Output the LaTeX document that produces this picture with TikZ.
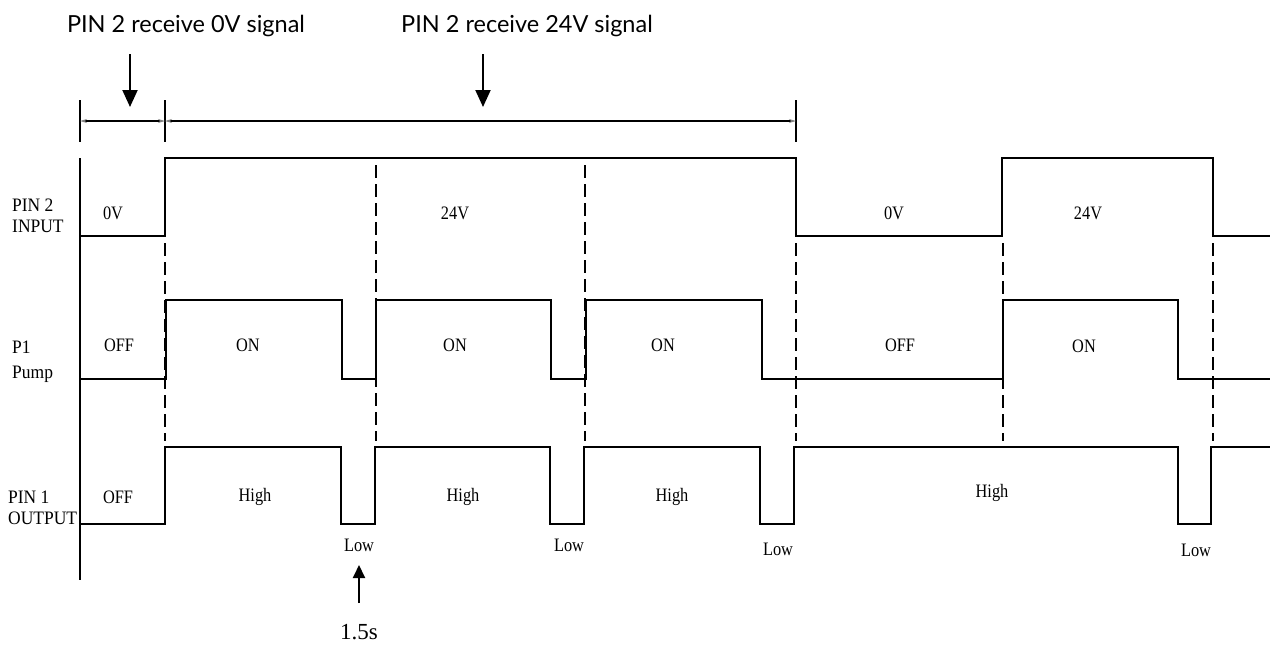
\documentclass[tikz,border=0pt]{standalone}
\usepackage{fontspec}
\usepackage{graphicx}
\setmainfont{Liberation Serif}
\newfontfamily\titlefont{Lato}
\newcommand{\sq}[1]{\scalebox{0.86}[1]{#1}}
\newcommand{\sqw}[1]{\scalebox{0.92}[1]{#1}}
\usetikzlibrary{arrows.meta}
\begin{document}
\begin{tikzpicture}[x=1pt,y=-1pt,
  sig/.style={line width=1.8pt,line join=miter},
  dsh/.style={line width=1.6pt,dash pattern=on 13pt off 6pt},
  tick/.style={line width=1.6pt},
  dimarr/.style={line width=1.1pt,{Stealth[length=7pt,width=4pt,color=gray]}-{Stealth[length=7pt,width=4pt,color=gray]}},
  bigarr/.style={line width=2pt,-{Triangle[length=17pt,width=15pt]}},
  ttl/.style={font=\titlefont\fontsize{23.5}{28}\selectfont,anchor=base},
  lbl/.style={font=\fontsize{19}{22}\selectfont},
  sidelbl/.style={font=\fontsize{19}{22}\selectfont,anchor=west,align=left,inner sep=0pt}]
\useasboundingbox (0,0) rectangle (1274,646);

% titles
\node[ttl] (t0) at (186,32) {PIN 2 receive 0V signal};
\node[ttl] (t24) at (527,32) {PIN 2 receive 24V signal};
\coordinate (a0s) at (130,54);
\coordinate (a0e) at (130,107);
\coordinate (a24s) at (483,54);
\coordinate (a24e) at (483,107);
\draw[bigarr] (a0s) -- (a0e);
\draw[bigarr] (a24s) -- (a24e);

% dimension line
\coordinate (d0) at (80,121);
\coordinate (d1) at (165,121);
\coordinate (d2) at (796,121);
\draw[tick] (80,100) -- (80,142);
\draw[tick] (165,100) -- (165,142);
\draw[tick] (796,100) -- (796,142);
\draw[dimarr] (d0) -- (d1);
\draw[dimarr] (d1) -- (d2);

% axis
\draw[line width=1.8pt] (80,158) -- (80,580);

% dashed guides
\draw[dsh] (165,243) -- (165,441);
\draw[dsh] (376,165) -- (376,441);
\draw[dsh] (585,165) -- (585,441);
\draw[dsh] (796,243) -- (796,441);
\draw[dsh] (1003,243) -- (1003,441);
\draw[dsh] (1213,243) -- (1213,441);

% PIN 2 INPUT
\draw[sig] (80,236) -- (165,236) -- (165,158) -- (796,158) -- (796,236)
  -- (1002,236) -- (1002,158) -- (1213,158) -- (1213,236) -- (1270,236);
% P1 pump
\draw[sig] (80,379) -- (166,379) -- (166,300) -- (342,300) -- (342,379)
  -- (376,379) -- (376,300) -- (551,300) -- (551,379) -- (586,379)
  -- (586,300) -- (762,300) -- (762,379) -- (1003,379) -- (1003,300)
  -- (1178,300) -- (1178,379) -- (1270,379);
% PIN 1 output
\draw[sig] (80,524) -- (165,524) -- (165,447) -- (341,447) -- (341,524)
  -- (375,524) -- (375,447) -- (550,447) -- (550,524) -- (584,524)
  -- (584,447) -- (760,447) -- (760,524) -- (794,524) -- (794,447)
  -- (1178,447) -- (1178,524) -- (1211,524) -- (1211,447) -- (1270,447);

% side labels
\node[sidelbl] (lin) at (12,216) {\sqw{PIN 2}\\[-1pt]\sqw{INPUT}};
\node[sidelbl] (lp) at (12,362) {\sqw{P1}\\[3pt]\sqw{Pump}};
\node[sidelbl] (lout) at (8,508) {\sqw{PIN 1}\\[-1pt]\sqw{OUTPUT}};

% row 1 labels
\node[lbl] (v1) at (113,213) {\sq{0V}};
\node[lbl] (v2) at (455,213) {\sq{24V}};
\node[lbl] (v3) at (894,213) {\sq{0V}};
\node[lbl] (v4) at (1088,213) {\sq{24V}};
% row 2 labels
\node[lbl] (p1) at (119,345) {\sq{OFF}};
\node[lbl] (p2) at (248,345) {\sq{ON}};
\node[lbl] (p3) at (455,345) {\sq{ON}};
\node[lbl] (p4) at (663,345) {\sq{ON}};
\node[lbl] (p5) at (900,345) {\sq{OFF}};
\node[lbl] (p6) at (1084,346) {\sq{ON}};
% row 3 labels
\node[lbl] (o1) at (118,497) {\sq{OFF}};
\node[lbl] (o2) at (255,497) {\sq{High}};
\node[lbl] (o3) at (463,497) {\sq{High}};
\node[lbl] (o4) at (672,497) {\sq{High}};
\node[lbl] (o5) at (992,493) {\sq{High}};
\node[lbl] (l1) at (359,545) {\sq{Low}};
\node[lbl] (l2) at (569,545) {\sq{Low}};
\node[lbl] (l3) at (778,549) {\sq{Low}};
\node[lbl] (l4) at (1196,550) {\sq{Low}};

% 1.5s
\node[font=\fontsize{23}{26}\selectfont] (t15) at (359,632) {1.5s};
\coordinate (u1) at (359,603);
\coordinate (u2) at (359,565);
\draw[line width=2pt,-{Triangle[length=13pt,width=12pt]}] (u1) -- (u2);
\end{tikzpicture}
\end{document}
